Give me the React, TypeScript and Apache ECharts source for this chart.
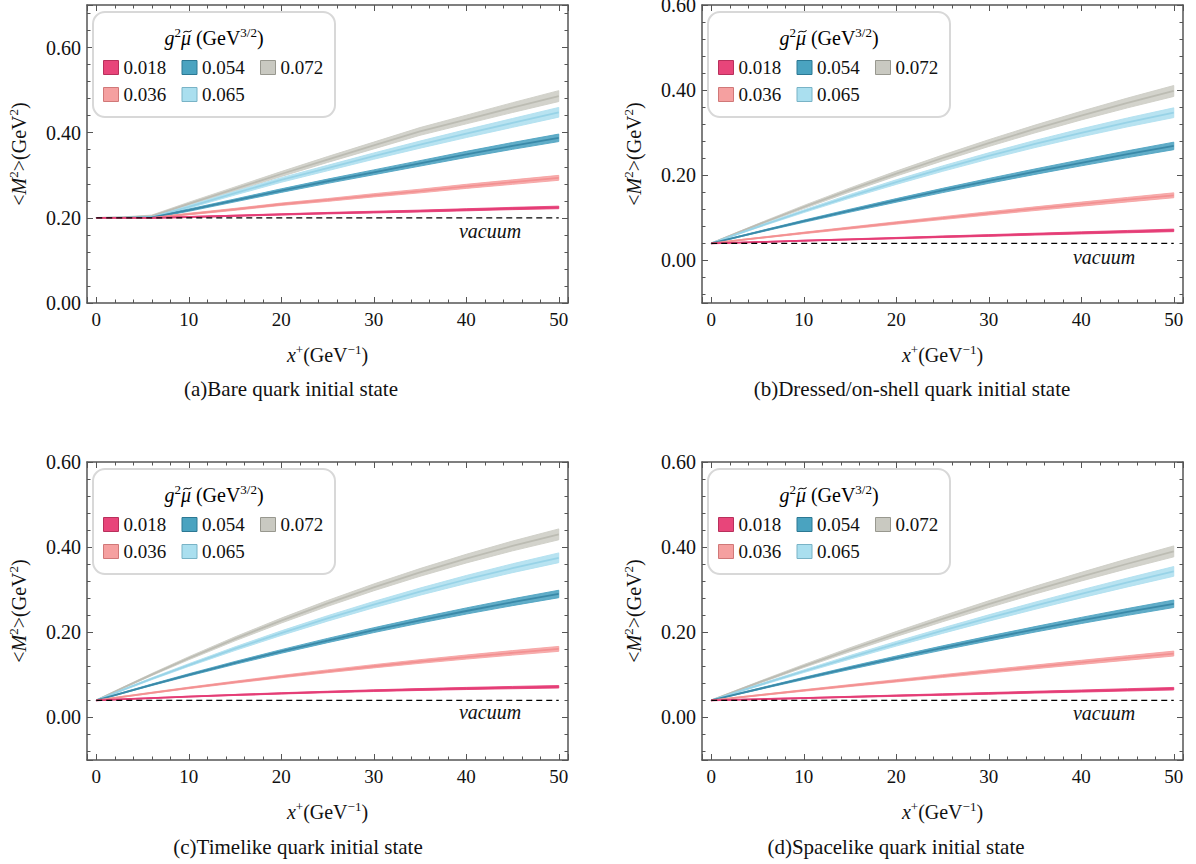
import React, { useEffect, useRef } from 'react';
import * as echarts from 'echarts';

// ---------- data ----------
const xPlus = [0, 3, 6, 10, 15, 20, 25, 30, 35, 40, 45, 50];
const couplings = ['0.018', '0.036', '0.054', '0.065', '0.072'];
const legendOrder = ['0.018', '0.054', '0.072', '0.036', '0.065'];
const xTicks = [0, 10, 20, 30, 40, 50];
const yTicks = [0, 0.2, 0.4, 0.6];

// (a) bare quark
const bare018 = [0.2, 0.2, 0.2, 0.202, 0.205, 0.208, 0.211, 0.2135, 0.216, 0.219, 0.222, 0.2245];
const bare036 = [0.2, 0.2, 0.2, 0.209, 0.22, 0.232, 0.242, 0.253, 0.263, 0.274, 0.284, 0.294];
const bare054 = [0.2, 0.2, 0.201, 0.218, 0.241, 0.264, 0.286, 0.307, 0.328, 0.349, 0.369, 0.388];
const bare065 = [0.2, 0.2, 0.202, 0.226, 0.258, 0.289, 0.317, 0.345, 0.372, 0.398, 0.423, 0.448];
const bare072 = [0.2, 0.201, 0.204, 0.233, 0.268, 0.303, 0.337, 0.37, 0.403, 0.431, 0.459, 0.486];

// (b) dressed / on-shell quark
const dressed018 = [0.04, 0.0419, 0.0438, 0.0463, 0.0494, 0.0525, 0.0556, 0.0586, 0.0617, 0.0647, 0.0677, 0.0706];
const dressed036 = [0.04, 0.0475, 0.0548, 0.0645, 0.0763, 0.088, 0.0994, 0.1106, 0.1215, 0.1322, 0.1427, 0.153];
const dressed054 = [0.04, 0.056, 0.0716, 0.0921, 0.1169, 0.141, 0.1643, 0.1868, 0.2085, 0.2294, 0.2495, 0.269];
const dressed065 = [0.04, 0.0634, 0.0862, 0.1155, 0.1507, 0.184, 0.2156, 0.2454, 0.2735, 0.2998, 0.3243, 0.347];
const dressed072 = [0.04, 0.0664, 0.0921, 0.1255, 0.1656, 0.204, 0.2406, 0.2756, 0.3088, 0.3402, 0.3699, 0.398];

// (c) timelike quark
const time018 = [0.04, 0.0428, 0.0455, 0.0489, 0.0528, 0.0565, 0.0598, 0.0629, 0.0656, 0.068, 0.0701, 0.072];
const time036 = [0.04, 0.049, 0.0579, 0.0693, 0.0829, 0.096, 0.1084, 0.1202, 0.1314, 0.1418, 0.1517, 0.161];
const time054 = [0.04, 0.0585, 0.0766, 0.1, 0.1281, 0.155, 0.1806, 0.205, 0.2281, 0.25, 0.2706, 0.29];
const time065 = [0.04, 0.0657, 0.0908, 0.123, 0.1615, 0.198, 0.2325, 0.265, 0.2955, 0.324, 0.3505, 0.375];
const time072 = [0.04, 0.0708, 0.1007, 0.139, 0.1846, 0.2275, 0.2678, 0.3055, 0.3406, 0.373, 0.4028, 0.43];

// (d) spacelike quark
const space018 = [0.04, 0.0417, 0.0433, 0.0455, 0.0483, 0.051, 0.0538, 0.0565, 0.0593, 0.062, 0.0648, 0.0675];
const space036 = [0.04, 0.0471, 0.0541, 0.0634, 0.0748, 0.086, 0.0971, 0.108, 0.1187, 0.1294, 0.1397, 0.15];
const space054 = [0.04, 0.0558, 0.0713, 0.0915, 0.1162, 0.14, 0.1631, 0.1854, 0.2069, 0.2278, 0.2478, 0.267];
const space065 = [0.04, 0.061, 0.0816, 0.1085, 0.1412, 0.173, 0.2038, 0.2336, 0.2624, 0.2902, 0.317, 0.343];
const space072 = [0.04, 0.0648, 0.089, 0.1207, 0.159, 0.196, 0.2316, 0.266, 0.299, 0.3306, 0.361, 0.39];

// uncertainty half-widths of the bands
const spread018 = [0.0005, 0.0006, 0.0008, 0.001, 0.0012, 0.0015, 0.0017, 0.002, 0.0022, 0.0025, 0.0027, 0.003];
const spread036 = [0.0005, 0.001, 0.0013, 0.0018, 0.0023, 0.0028, 0.0033, 0.0038, 0.0043, 0.0048, 0.0053, 0.0058];
const spread054 = [0.0005, 0.0012, 0.0018, 0.0026, 0.0034, 0.0042, 0.005, 0.0057, 0.0064, 0.0072, 0.008, 0.0088];
const spread065 = [0.0005, 0.0014, 0.0022, 0.0032, 0.0043, 0.0054, 0.0064, 0.0074, 0.0084, 0.0094, 0.0104, 0.0114];
const spread072 = [0.0005, 0.0015, 0.0025, 0.0036, 0.0047, 0.0058, 0.0069, 0.008, 0.0091, 0.0102, 0.0115, 0.0128];

const vacuumBare = 0.2;
const vacuumOther = 0.04;

const captions = [
  '(a)Bare quark initial state',
  '(b)Dressed/on-shell quark initial state',
  '(c)Timelike quark initial state',
  '(d)Spacelike quark initial state',
];

// ---------- styling / layout ----------
const FONT = '"Liberation Serif", "Times New Roman", "DejaVu Serif", serif';
const AXIS_COLOR = '#555';
const TEXT = '#111';

const palette: Record<string, { band: string; line: string; fill: string; border: string }> = {
  '0.018': { band: 'rgba(232,64,120,0.85)', line: '#e43d76', fill: '#e8457a', border: '#b8305c' },
  '0.036': { band: 'rgba(246,160,160,0.85)', line: '#f39192', fill: '#f5a0a0', border: '#d07878' },
  '0.054': { band: 'rgba(80,164,194,0.9)', line: '#3a89a8', fill: '#4aa3c0', border: '#2c7893' },
  '0.065': { band: 'rgba(176,224,240,0.9)', line: '#98d3e7', fill: '#aadfef', border: '#79b3c6' },
  '0.072': { band: 'rgba(206,206,199,0.9)', line: '#bcbcb3', fill: '#c9c9c1', border: '#98988f' },
};

const spreads: Record<string, number[]> = {
  '0.018': spread018, '0.036': spread036, '0.054': spread054, '0.065': spread065, '0.072': spread072,
};

const panels = [
  { values: [bare018, bare036, bare054, bare065, bare072], vacuum: vacuumBare, yMin: 0, yMax: 0.7 },
  { values: [dressed018, dressed036, dressed054, dressed065, dressed072], vacuum: vacuumOther, yMin: -0.1, yMax: 0.6 },
  { values: [time018, time036, time054, time065, time072], vacuum: vacuumOther, yMin: -0.1, yMax: 0.6 },
  { values: [space018, space036, space054, space065, space072], vacuum: vacuumOther, yMin: -0.1, yMax: 0.6 },
];

const layouts = [
  { left: 87, top: 5, capX: 291, capY: 389, vacX: 490, vacY: 231 },
  { left: 702, top: 5, capX: 912, capY: 389, vacX: 1104, vacY: 257 },
  { left: 87, top: 462, capX: 298, capY: 847, vacX: 490, vacY: 712 },
  { left: 702, top: 462, capX: 896, capY: 847, vacX: 1104, vacY: 713 },
];
const PW = 481;
const PH = 298;

const rich = {
  n: { fontFamily: FONT, fontSize: 20, color: TEXT, lineHeight: 24 },
  i: { fontFamily: FONT, fontSize: 20, fontStyle: 'italic', color: TEXT, lineHeight: 24 },
  s: { fontFamily: FONT, fontSize: 13, color: TEXT, verticalAlign: 'top', lineHeight: 14 },
};

function isMultiple(v: number, step: number) {
  return Math.abs(Math.round(v / step) * step - v) < 1e-6;
}

function buildOption() {
  const grid: any[] = [];
  const xAxis: any[] = [];
  const yAxis: any[] = [];
  const series: any[] = [];
  const legend: any[] = [];
  const graphic: any[] = [];

  const lineStyle = { color: AXIS_COLOR, width: 1.5 };
  const tickStyle = { color: AXIS_COLOR, width: 1 };
  const xStep = xTicks[1] - xTicks[0];
  const yStep = yTicks[1] - yTicks[0];

  panels.forEach((p, i) => {
    const L = layouts[i];
    grid.push({ left: L.left, top: L.top, width: PW, height: PH, outerBoundsMode: 'none', containLabel: false });

    const commonX = {
      type: 'value', gridIndex: i, min: -1, max: 51, splitNumber: 5,
      minInterval: xStep, maxInterval: xStep,
      axisLine: { onZero: false, lineStyle },
      axisTick: { inside: true, length: 6, lineStyle: tickStyle },
      minorTick: { show: true, splitNumber: 5, length: 3.5, lineStyle: tickStyle },
      splitLine: { show: false }, minorSplitLine: { show: false },
    };
    xAxis.push({
      ...commonX, position: 'bottom',
      axisLabel: {
        fontFamily: FONT, fontSize: 19, color: TEXT, margin: 7,
        formatter: (v: number) => (isMultiple(v, xStep) ? String(Math.round(v)) : ''),
      },
      name: '{i|x}{s|+}{n|(GeV}{s|−1}{n|)}', nameLocation: 'middle', nameGap: 40,
      nameTextStyle: { rich },
    });
    xAxis.push({ ...commonX, position: 'top', axisLabel: { show: false } });

    const commonY = {
      type: 'value', gridIndex: i, min: p.yMin, max: p.yMax, splitNumber: 4,
      minInterval: yStep, maxInterval: yStep,
      axisLine: { onZero: false, lineStyle },
      axisTick: { inside: true, length: 6, lineStyle: tickStyle },
      minorTick: { show: true, splitNumber: 5, length: 3.5, lineStyle: tickStyle },
      splitLine: { show: false }, minorSplitLine: { show: false },
    };
    yAxis.push({
      ...commonY, position: 'left',
      axisLabel: {
        fontFamily: FONT, fontSize: 20, color: TEXT, margin: 6,
        formatter: (v: number) => (isMultiple(v, yStep) ? Math.abs(v).toFixed(2) : ''),
      },
      name: '{n|<}{i|M}{s|2}{n|>(GeV}{s|2}{n|)}', nameLocation: 'middle', nameGap: 56, nameRotate: 90,
      nameTextStyle: { rich },
    });
    yAxis.push({ ...commonY, position: 'right', axisLabel: { show: false } });

    const xi = 2 * i;
    const yi = 2 * i;
    // draw from the largest coupling to the smallest
    for (let c = couplings.length - 1; c >= 0; c--) {
      const name = couplings[c];
      const center = p.values[c];
      const hw = spreads[name];
      const col = palette[name];
      series.push({
        type: 'custom', name: `${name} band ${i}`, xAxisIndex: xi, yAxisIndex: yi,
        silent: true, z: 2,
        data: xPlus.map((x, k) => [x, center[k] - hw[k], center[k] + hw[k]]),
        encode: { x: 0, y: [1, 2] },
        renderItem: (params: any, api: any) => {
          if (params.dataIndex !== 0) return null;
          const upper = xPlus.map((x, k) => api.coord([x, center[k] + hw[k]]));
          const lower = xPlus.map((x, k) => api.coord([x, center[k] - hw[k]])).reverse();
          return {
            type: 'polygon', silent: true,
            shape: { points: upper.concat(lower) },
            style: { fill: col.band, stroke: col.band, lineWidth: 1 },
          };
        },
      });
      series.push({
        type: 'line', name, xAxisIndex: xi, yAxisIndex: yi,
        data: xPlus.map((x, k) => [x, center[k]]),
        symbol: 'none', silent: true,
        lineStyle: { color: col.line, width: 1.8 },
        itemStyle: { color: col.fill }, z: 2,
      });
    }
    series.push({
      type: 'line', name: `vacuum ${i}`, xAxisIndex: xi, yAxisIndex: yi,
      data: [[xTicks[0], p.vacuum], [xTicks[xTicks.length - 1], p.vacuum]],
      symbol: 'none', silent: true,
      lineStyle: { color: '#000', width: 1.3, type: [6, 4] }, z: 3,
    });

    legend.push({
      left: L.left + 16, top: L.top + 53, width: 240, padding: 0,
      orient: 'horizontal', itemWidth: 15, itemHeight: 14, itemGap: 8,
      selectedMode: false, z: 6,
      textStyle: { fontFamily: FONT, fontSize: 19, color: TEXT, width: 50, lineHeight: 18 },
      data: legendOrder.map((n) => ({
        name: n, icon: 'rect',
        itemStyle: { color: palette[n].fill, borderColor: palette[n].border, borderWidth: 1 },
      })),
    });

    graphic.push({
      type: 'rect', z: 5, silent: true,
      shape: { x: L.left + 6, y: L.top + 7, width: 242, height: 105, r: 12 },
      style: { fill: '#fff', stroke: '#d8d8d8', lineWidth: 2 },
    });
    graphic.push({
      type: 'text', z: 6, silent: true, x: L.left + 127, y: L.top + 33,
      style: {
        text: '{i|g}{s|2}{i|μ}{n| (GeV}{s|3/2}{n|)}', rich,
        align: 'center', verticalAlign: 'middle',
      },
    });
    // tilde accent drawn over the mu
    const tx = L.left + 100.5;
    const ty = L.top + 26.5;
    graphic.push({
      type: 'bezierCurve', z: 6, silent: true,
      shape: { x1: tx - 4, y1: ty + 1.2, x2: tx + 4, y2: ty - 1.2, cpx1: tx - 1.5, cpy1: ty - 3, cpx2: tx + 1.5, cpy2: ty + 3 },
      style: { stroke: TEXT, lineWidth: 1.1, fill: 'none' },
    });
    graphic.push({
      type: 'text', z: 6, silent: true, x: L.vacX, y: L.vacY,
      style: {
        text: 'vacuum', fill: TEXT, font: `italic 20px ${FONT}`,
        align: 'center', verticalAlign: 'middle',
      },
    });
    graphic.push({
      type: 'text', z: 6, silent: true, x: L.capX, y: L.capY,
      style: {
        text: captions[i], fill: TEXT, font: `21px ${FONT}`,
        align: 'center', verticalAlign: 'middle',
      },
    });
  });

  return {
    animation: false,
    backgroundColor: '#fff',
    grid, xAxis, yAxis, series, legend, graphic,
  };
}

export default function App() {
  const ref = useRef<HTMLDivElement>(null);
  useEffect(() => {
    if (!ref.current) return;
    const chart = echarts.init(ref.current, undefined, { renderer: 'svg' });
    chart.setOption(buildOption() as any);
    return () => chart.dispose();
  }, []);
  return (
    <div
      ref={ref}
      style={{ position: 'fixed', left: 0, top: 0, width: 1196, height: 864, background: '#fff' }}
    />
  );
}
